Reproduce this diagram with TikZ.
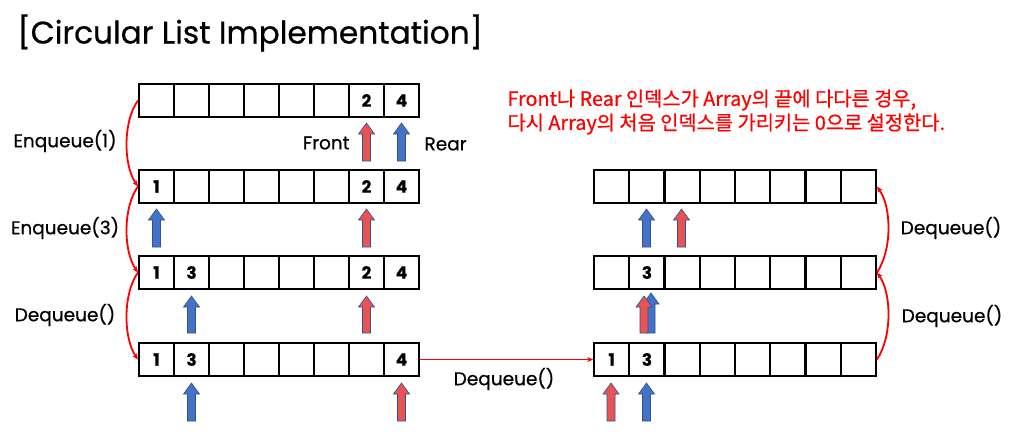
\documentclass[tikz,border=0pt]{standalone}
\usepackage{fontspec}
\setmainfont{Poppins}[FakeBold=0.6]
\newfontfamily\kor{Noto Sans CJK KR}[FakeBold=0.6]
\usetikzlibrary{arrows.meta}
\definecolor{fred}{RGB}{232,83,83}
\definecolor{fblue}{RGB}{68,114,196}
\definecolor{edgec}{RGB}{47,82,143}
\definecolor{tred}{RGB}{255,0,0}
\newcommand\blk[4]{%
  \filldraw[fill=#4,draw=edgec,line width=0.6pt] ({#1-4},{#3}) -- ({#1-4},{#2+11}) -- ({#1-8},{#2+11}) -- ({#1},{#2}) -- ({#1+8},{#2+11}) -- ({#1+4},{#2+11}) -- ({#1+4},{#3}) -- cycle;}
\begin{document}
\begin{tikzpicture}[x=1pt,y=-1pt,
  cell/.style={draw,line width=2pt,minimum width=35pt,minimum height=33pt,inner sep=0pt,font=\fontsize{17}{17}\selectfont\bfseries},
  lbl/.style={font=\fontsize{18.5}{18.5}\selectfont},
  conn/.style={draw=red,line width=1.8pt,-{Stealth[length=6pt,width=5pt]}}]
\useasboundingbox[fill=white] (0,0) rectangle (1018,436);
\node[anchor=west,font=\fontsize{31.2}{31.2}\selectfont] (title) at (14,33) {[Circular List Implementation]};
\node[anchor=north west,align=left,text=tred,font=\kor\fontsize{19.8}{24}\selectfont] (note) at (504,86)
  {Front나 Rear 인덱스가 Array의 끝에 다다른 경우,\\다시 Array의 처음 인덱스를 가리키는 0으로 설정한다.};
% left rows
\foreach \v [count=\i] in {{},{},{},{},{},{},2,4}
  \node[cell] (La\i) at ({139+35*(\i-0.5)},100.5) {\v};
\foreach \v [count=\i] in {1,{},{},{},{},{},2,4}
  \node[cell] (Lb\i) at ({139+35*(\i-0.5)},186.5) {\v};
\foreach \v [count=\i] in {1,3,{},{},{},{},2,4}
  \node[cell] (Lc\i) at ({139+35*(\i-0.5)},272.5) {\v};
\foreach \v [count=\i] in {1,3,{},{},{},{},{},4}
  \node[cell] (Ld\i) at ({139+35*(\i-0.5)},359.5) {\v};
% right rows
\foreach \v [count=\i] in {{},{},{},{},{},{},{},{}}
  \node[cell] (Ra\i) at ({594+35.25*(\i-0.5)},186.5) {\v};
\foreach \v [count=\i] in {{},3,{},{},{},{},{},{}}
  \node[cell] (Rb\i) at ({594+35.25*(\i-0.5)},272.5) {\v};
\foreach \v [count=\i] in {1,3,{},{},{},{},{},{}}
  \node[cell] (Rc\i) at ({594+35.25*(\i-0.5)},359.5) {\v};
% pointer arrows
\blk{366.5}{123}{161}{fred}
\blk{401.5}{123}{161}{fblue}
\node[lbl,anchor=east] (front) at (353,143) {Front};
\node[lbl,anchor=west] (rear) at (421,144) {Rear};
\blk{156.5}{209}{247}{fblue}
\blk{366.5}{209}{247}{fred}
\blk{191.5}{296}{333}{fblue}
\blk{366.5}{296}{333}{fred}
\blk{191.5}{383}{421}{fblue}
\blk{401.5}{383}{421}{fred}
\blk{646.5}{209}{247}{fblue}
\blk{681.5}{209}{247}{fred}
\blk{651}{293}{333}{fblue}
\blk{644}{296}{333}{fred}
\blk{611}{383}{421}{fred}
\blk{646.5}{383}{421}{fblue}
% transitions
\draw[conn] (La1.west) .. controls (123,121) and (123,165) .. (Lb1.west);
\draw[conn] (Lb1.west) .. controls (123,207) and (123,251) .. (Lc1.west);
\draw[conn] (Lc1.west) .. controls (123,293) and (123,338) .. (Ld1.west);
\draw[conn] (Ld8.east) -- (Rc1.west);
\draw[conn] (Rc8.east) .. controls (892,338) and (892,293) .. (Rb8.east);
\draw[conn] (Rb8.east) .. controls (892,251) and (892,207) .. (Ra8.east);
\node[lbl] (e1) at (65,141) {Enqueue(1)};
\node[lbl] (e3) at (65,228) {Enqueue(3)};
\node[lbl] (d1) at (65,315) {Dequeue()};
\node[lbl] (d2) at (504,379) {Dequeue()};
\node[lbl] (d3) at (951,228) {Dequeue()};
\node[lbl] (d4) at (952,316) {Dequeue()};
\end{tikzpicture}
\end{document}
